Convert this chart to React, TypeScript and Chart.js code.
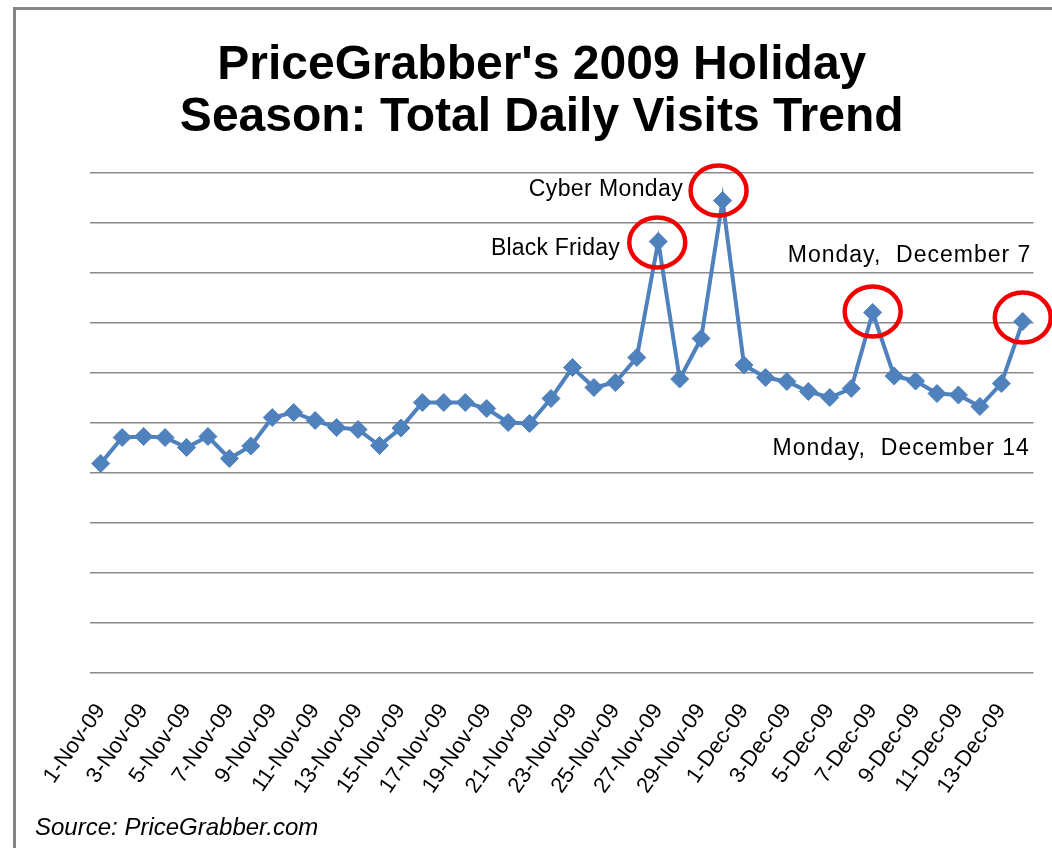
import React, { useEffect, useRef } from 'react';
import { Chart, registerables } from 'chart.js';

Chart.register(...registerables);

const FONT = "'Liberation Sans', Arial, Helvetica, sans-serif";

const dates = [
  '1-Nov-09', '2-Nov-09', '3-Nov-09', '4-Nov-09', '5-Nov-09', '6-Nov-09', '7-Nov-09', '8-Nov-09',
  '9-Nov-09', '10-Nov-09', '11-Nov-09', '12-Nov-09', '13-Nov-09', '14-Nov-09', '15-Nov-09', '16-Nov-09',
  '17-Nov-09', '18-Nov-09', '19-Nov-09', '20-Nov-09', '21-Nov-09', '22-Nov-09', '23-Nov-09', '24-Nov-09',
  '25-Nov-09', '26-Nov-09', '27-Nov-09', '28-Nov-09', '29-Nov-09', '30-Nov-09',
  '1-Dec-09', '2-Dec-09', '3-Dec-09', '4-Dec-09', '5-Dec-09', '6-Dec-09', '7-Dec-09', '8-Dec-09',
  '9-Dec-09', '10-Dec-09', '11-Dec-09', '12-Dec-09', '13-Dec-09', '14-Dec-09',
];

// Relative daily visits (no axis values shown in the original)
const visits = [
  419, 471, 473, 471, 451, 473, 429, 454,
  511, 521, 505, 491, 487, 455, 490, 541,
  541, 541, 529, 501, 499, 549, 611, 571,
  581, 631, 863, 588, 669, 945,
  616, 591, 583, 563, 551, 569, 721, 594,
  584, 559, 556, 533, 579, 703,
];

const highlightedDates = ['27-Nov-09', '30-Nov-09', '7-Dec-09', '14-Dec-09'];
const noteTexts = ['Black Friday', 'Cyber Monday', 'Monday,  December 7', 'Monday,  December 14'];

const titleLines = ["PriceGrabber's 2009 Holiday", 'Season: Total Daily Visits Trend'];
const sourceText = 'Source: PriceGrabber.com';

// layout of annotations (in data space: category index / value units)
const noteLayout = [
  { x: 24.21, y: 836, spacing: 0.2 },
  { x: 27.16, y: 954, spacing: 0.4 },
  { x: 43.4, y: 823, spacing: 1 },
  { x: 43.33, y: 436, spacing: 1 },
];
const circleOffsets = [
  { dx: -1, dy: 1 },
  { dx: -4, dy: -10 },
  { dx: 0, dy: -1 },
  { dx: 0, dy: -4 },
];

const decorPlugin = {
  id: 'decor',
  afterDatasetsDraw(chart: any) {
    const ctx = chart.ctx;
    const xs = chart.scales.x;
    const ys = chart.scales.y;
    ctx.save();
    ctx.strokeStyle = 'rgb(240,0,0)';
    ctx.lineWidth = 4.5;
    highlightedDates.forEach((d, i) => {
      const idx = dates.indexOf(d);
      const cx = xs.getPixelForValue(idx) + circleOffsets[i].dx;
      const cy = ys.getPixelForValue(visits[idx]) + circleOffsets[i].dy;
      ctx.beginPath();
      ctx.ellipse(cx, cy, 28, 25, 0, 0, Math.PI * 2);
      ctx.stroke();
    });
    ctx.restore();
  },
  afterDraw(chart: any) {
    const ctx = chart.ctx;
    const xs = chart.scales.x;
    const ys = chart.scales.y;
    ctx.save();
    ctx.fillStyle = '#000';
    ctx.font = `23px ${FONT}`;
    ctx.textAlign = 'right';
    ctx.textBaseline = 'alphabetic';
    noteTexts.forEach((t, i) => {
      const l = noteLayout[i];
      const x0 = xs.getPixelForValue(Math.floor(l.x));
      const x1 = xs.getPixelForValue(Math.floor(l.x) + 1);
      const px = x0 + (x1 - x0) * (l.x - Math.floor(l.x));
      const py = ys.getPixelForValue(l.y);
      (ctx as any).letterSpacing = `${l.spacing}px`;
      ctx.fillText(t, px, py);
    });
    (ctx as any).letterSpacing = '0px';
    ctx.textAlign = 'left';
    ctx.font = `italic 24px ${FONT}`;
    ctx.fillText(sourceText, 35, 835);
    // frame
    ctx.fillStyle = '#858585';
    ctx.fillRect(13, 7, chart.width - 13, 3);
    ctx.fillRect(13, 7, 3, chart.height - 7);
    ctx.restore();
  },
};

export default function App() {
  const ref = useRef<HTMLCanvasElement | null>(null);
  useEffect(() => {
    if (!ref.current) return;
    const chart = new Chart(ref.current, {
      type: 'line',
      data: {
        labels: dates,
        datasets: [
          {
            data: visits,
            borderColor: '#4f81bd',
            backgroundColor: '#4f81bd',
            borderWidth: 4,
            pointStyle: 'rectRot',
            pointRadius: 9,
            pointBorderWidth: 1,
            pointBackgroundColor: '#4f81bd',
            pointBorderColor: '#4f81bd',
            tension: 0,
            fill: false,
          },
        ],
      },
      options: {
        animation: false,
        responsive: true,
        maintainAspectRatio: false,
        layout: { padding: { left: 50, right: 18.5, top: 0, bottom: 0 } },
        plugins: {
          legend: { display: false },
          tooltip: { enabled: false },
          title: {
            display: true,
            text: titleLines,
            color: '#000',
            font: { family: FONT, size: 48, weight: 'bold', lineHeight: 1.1 },
            padding: { top: 39, bottom: 28.4 },
          },
        },
        scales: {
          x: {
            offset: true,
            grid: { display: false, drawTicks: false },
            border: { display: false },
            afterFit: (s: any) => {
              s.height = 175;
              s.paddingLeft = 0;
              s.paddingRight = 0;
            },
            ticks: {
              autoSkip: false,
              minRotation: 55,
              maxRotation: 55,
              padding: 26,
              color: '#000',
              font: { family: FONT, size: 22 },
              callback: (_v: any, i: number) => (i % 2 === 0 ? dates[i] : ''),
            },
          },
          y: {
            min: 0,
            max: 1000,
            grid: { color: '#8a8a8a', lineWidth: 1.6, drawTicks: false },
            border: { display: false },
            afterFit: (s: any) => { s.width = 40; },
            ticks: { display: false, stepSize: 100 },
          },
        },
      },
      plugins: [decorPlugin],
    });
    return () => chart.destroy();
  }, []);
  return (
    <div style={{ position: 'fixed', left: 0, top: 0, width: 1052, height: 848, background: '#fff' }}>
      <canvas ref={ref} />
    </div>
  );
}
